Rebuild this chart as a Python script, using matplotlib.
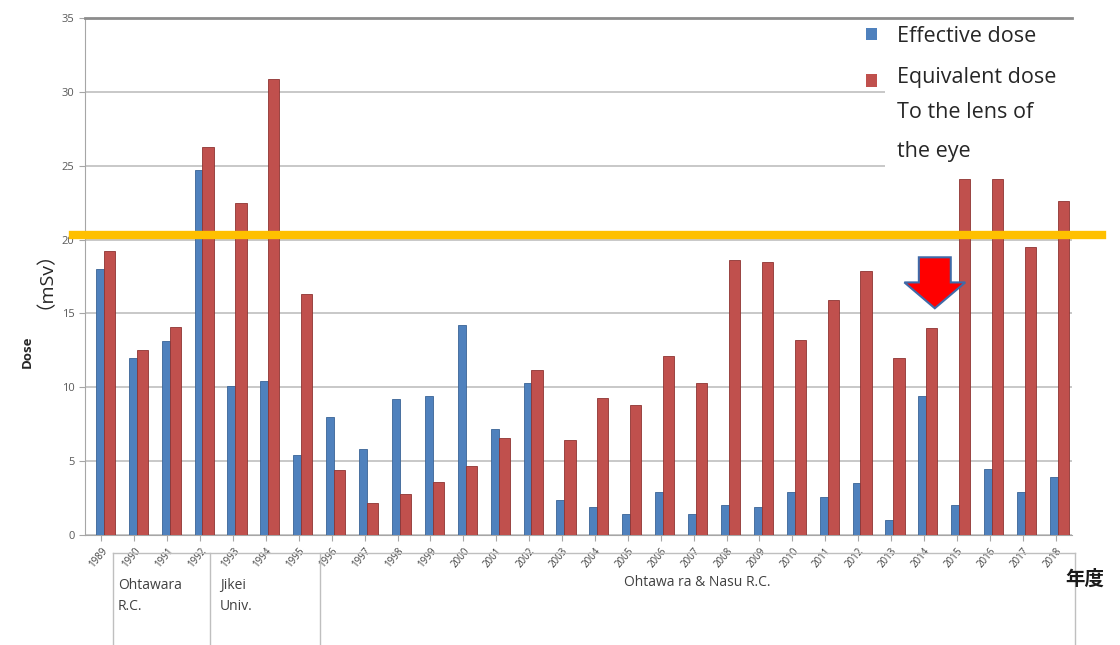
import numpy as np
import matplotlib.pyplot as plt
from matplotlib.patches import FancyArrow, Rectangle
from matplotlib.lines import Line2D

plt.rcParams['font.family'] = ['Open Sans', 'Noto Sans CJK JP', 'DejaVu Sans']

years = [str(y) for y in range(1989, 2019)]
effective = [18.0, 12.0, 13.1, 24.7, 10.1, 10.4, 5.4, 8.0, 5.8, 9.2,
             9.4, 14.2, 7.2, 10.3, 2.4, 1.9, 1.4, 2.9, 1.4, 2.0,
             1.9, 2.9, 2.6, 3.5, 1.0, 9.4, 2.0, 4.5, 2.9, 3.9]
lens = [19.2, 12.5, 14.1, 26.3, 22.5, 30.9, 16.3, 4.4, 2.2, 2.8,
        3.6, 4.7, 6.6, 11.2, 6.4, 9.3, 8.8, 12.1, 10.3, 18.6,
        18.5, 13.2, 15.9, 17.9, 12.0, 14.0, 24.1, 24.1, 19.5, 22.6]
limit = 20.3
arrow_year = '2014'
groups = ['Ohtawara\nR.C.', 'Jikei\nUniv.', 'Ohtawa ra & Nasu R.C.']
legend_lines = ['Effective dose', 'Equivalent dose', 'To the lens of', 'the eye']

W, H = 1120, 645
fig = plt.figure(figsize=(11.2, 6.45), dpi=100)
ax = fig.add_axes([85 / W, 1 - 535 / H, (1072 - 85) / W, (535 - 18) / H])

x = np.arange(len(years))
ax.bar(x - 0.17, effective, width=0.24, align='edge', color='#4F81BD',
       edgecolor='#3A6496', linewidth=0.6, zorder=3)
ax.bar(x + 0.07, lens, width=0.34, align='edge', color='#C0504D',
       edgecolor='#8E3432', linewidth=0.6, zorder=3)

ax.set_xlim(-0.5, len(years) - 0.5)
ax.set_ylim(0, 35)
ax.set_yticks(range(0, 36, 5))
ax.grid(axis='y', color='#BFBFBF', linewidth=1.2, zorder=0)
ax.tick_params(axis='y', labelsize=8, labelcolor='#595959', color='#A6A6A6', length=4)
ax.set_xticks(x)
ax.set_xticklabels(years, rotation=50, fontsize=7, color='#404040', ha='right',
                   rotation_mode='anchor')
ax.tick_params(axis='x', color='#A6A6A6', length=4)
ax.spines['right'].set_visible(False)
ax.spines['left'].set_color('#A6A6A6')
ax.spines['bottom'].set_color('#A6A6A6')
ax.spines['top'].set_color('#8C8C8C')
ax.spines['top'].set_linewidth(2)

# limit line, runs past the axes on both sides
ax.add_line(Line2D([-0.012, 1.03], [limit, limit], transform=ax.get_yaxis_transform(),
                   color='#FFC000', linewidth=6, clip_on=False, zorder=5))

# red arrow at 2014
xa = years.index(arrow_year) + 0.33
ax.add_patch(FancyArrow(xa, 18.8, 0, -3.45, width=0.97, head_width=1.85, head_length=1.75,
                        length_includes_head=True, facecolor='#FF0000',
                        edgecolor='#3F6AA8', linewidth=1.5, zorder=6))

# legend, drawn by hand: white block over the grid, two squares, four text lines
fig.add_artist(Rectangle((885 / W, 1 - 168 / H), (1080 - 885) / W, (168 - 22) / H,
                         transform=fig.transFigure, facecolor='white', edgecolor='none',
                         zorder=8))
fig.add_artist(Rectangle((866 / W, 1 - 40 / H), 11 / W, 12 / H, transform=fig.transFigure,
                         facecolor='#4F81BD', edgecolor='none', zorder=9))
fig.add_artist(Rectangle((866 / W, 1 - 87 / H), 11 / W, 13 / H, transform=fig.transFigure,
                         facecolor='#C0504D', edgecolor='none', zorder=9))
for txt, yp in zip(legend_lines, [37, 78, 113, 151]):
    fig.text(897 / W, 1 - yp / H, txt, fontsize=15.5, color='#262626', va='center',
             zorder=10)

fig.text(27 / W, 1 - 352 / H, 'Dose', rotation=90, fontsize=9.5, fontweight='bold',
         ha='center', va='center', color='#262626')
fig.text(35 / W, 1 - 270 / H, '（mSv）', rotation=90, fontsize=14,
         ha='center', va='center', color='#262626')
fig.text(1085 / W, 1 - 580 / H, '年度', fontsize=14, fontweight='bold',
         ha='center', va='center', color='#1a1a1a')

# table below the axis
lc = '#BFBFBF'
top = 1 - 553 / H
fig.add_artist(Line2D([113 / W, 1075 / W], [top, top], color=lc, lw=1))
for xp in [113, 210, 320, 1075]:
    fig.add_artist(Line2D([xp / W, xp / W], [top, 0], color=lc, lw=1))
fig.text(118 / W, 1 - 596 / H, groups[0], fontsize=10, color='#404040',
         va='center', linespacing=1.6)
fig.text(220 / W, 1 - 596 / H, groups[1], fontsize=10, color='#404040',
         va='center', linespacing=1.6)
fig.text(697 / W, 1 - 583 / H, groups[2], fontsize=10, color='#404040',
         ha='center', va='center')

plt.savefig('out.png', dpi=100)
